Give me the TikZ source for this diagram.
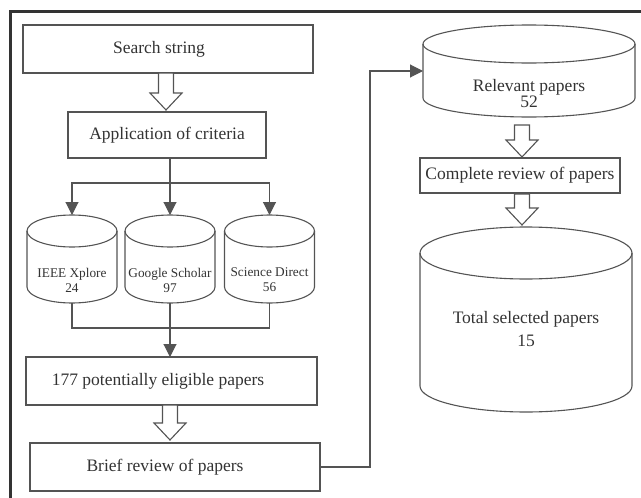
\documentclass[tikz,border=0pt]{standalone}
\usepackage{fontspec}
\setmainfont{Liberation Serif}
\usetikzlibrary{arrows.meta,calc}
\definecolor{lncol}{gray}{0.33}
\definecolor{txcol}{gray}{0.2}
\definecolor{frcol}{gray}{0.2}
\tikzset{
  ln/.style={draw=lncol, line width=1.1pt},
  boxnode/.style={ln, rectangle, inner sep=0pt, outer sep=0pt, text=txcol, font=\fontsize{17.5}{19}\selectfont},
  cylbox/.style={rectangle, inner sep=0pt, outer sep=0pt},
  cyltext/.style={text=txcol, align=center, inner sep=0pt},
  bigtext/.style={cyltext, font=\fontsize{17.5}{16}\selectfont},
  smalltext/.style={cyltext, font=\fontsize{13.3}{15}\selectfont},
  hol/.style={ln, fill=white, line join=miter},
  arr/.style={ln, -{Triangle[width=13pt,length=13pt]}}
}
\newcommand\cyl[6]{%
  \node[cylbox, minimum width=#4pt, minimum height=#5pt] (#1) at (#2,#3) {};
  \draw[ln] ($(#1.north)+(0,#6)$) ellipse[x radius=#4pt/2, y radius=#6pt];
  \draw[ln] ($(#1.north west)+(0,#6)$) -- ($(#1.south west)+(0,-#6)$)
     arc[start angle=180, end angle=360, x radius=#4pt/2, y radius=#6pt]
     -- ($(#1.north east)+(0,#6)$);
}
\newcommand\hollowarr[5]{%
  \draw[hol] let \p1=(#1.south), \p2=(#2.north) in
    (#3pt-7.5pt,\y1-#4pt) -- (#3pt+7.5pt,\y1-#4pt) -- (#3pt+7.5pt,\y2+#5pt+17pt)
    -- (#3pt+16pt,\y2+#5pt+17pt) -- (#3pt,\y2+#5pt) -- (#3pt-16pt,\y2+#5pt+17pt)
    -- (#3pt-7.5pt,\y2+#5pt+17pt) -- cycle;
}
\begin{document}
\begin{tikzpicture}[x=1pt, y=-1pt]
\useasboundingbox (0,0) rectangle (641,498);
% frame
\draw[draw=frcol, line width=3pt] (10,498) -- (10,11) -- (641,11);

% left column
\node[boxnode, minimum width=290pt, minimum height=48pt] (search) at (168,49) {Search string\hspace*{18pt}};
\node[boxnode, minimum width=198pt, minimum height=46pt] (crit) at (167,135) {Application of criteria};

\cyl{ieee}{72}{259}{90}{88}{16}
\cyl{google}{170}{259}{90}{88}{16}
\cyl{sci}{269.5}{259}{90}{88}{16}
\node[smalltext] (ieeeT) at (72,280) {IEEE Xplore\\24};
\node[smalltext] (googleT) at (170,280) {Google Scholar\\97};
\node[smalltext] (sciT) at (269.5,280) {Science Direct\\56};

\node[boxnode, minimum width=291pt, minimum height=48pt] (elig) at (171.5,381) {177 potentially eligible papers\hspace*{27pt}};
\node[boxnode, minimum width=290pt, minimum height=48pt] (brief) at (175,467) {Brief review of papers\hspace*{20pt}};

% right column
\cyl{rel}{529}{71}{212}{92}{19}
\node[bigtext] (relT) at (529,93.5) {Relevant papers\\52};
\node[boxnode, minimum width=200pt, minimum height=35pt] (compl) at (520,175.5) {Complete review of papers};
\cyl{total}{526}{319.5}{212}{185}{26}
\node[cyltext, font=\fontsize{17.5}{23}\selectfont] (totalT) at (526,329) {Total selected papers\\15};

% connectors
\coordinate (j) at (170,183);
\draw[ln] (crit.south -| j) -- (j);
\draw[arr] (j) -| (ieee.north);
\draw[arr] (j) -| (sci.north);
\draw[arr] (j) -- (google.north);

\coordinate (m) at (170,328);
\draw[ln] (ieee.south) |- (m);
\draw[ln] (sci.south) |- (m);
\draw[arr] (google.south) -- (elig.north -| google.south);

\coordinate (k) at (370,0);
\draw[arr] (brief.east) -| (k |- rel.west) -- (rel.west);

% hollow arrows
\hollowarr{search}{crit}{166}{0}{2}
\hollowarr{elig}{brief}{170}{0}{3}
\hollowarr{rel}{compl}{522}{8}{1}
\hollowarr{compl}{total}{522}{1}{2}
\end{tikzpicture}
\end{document}
